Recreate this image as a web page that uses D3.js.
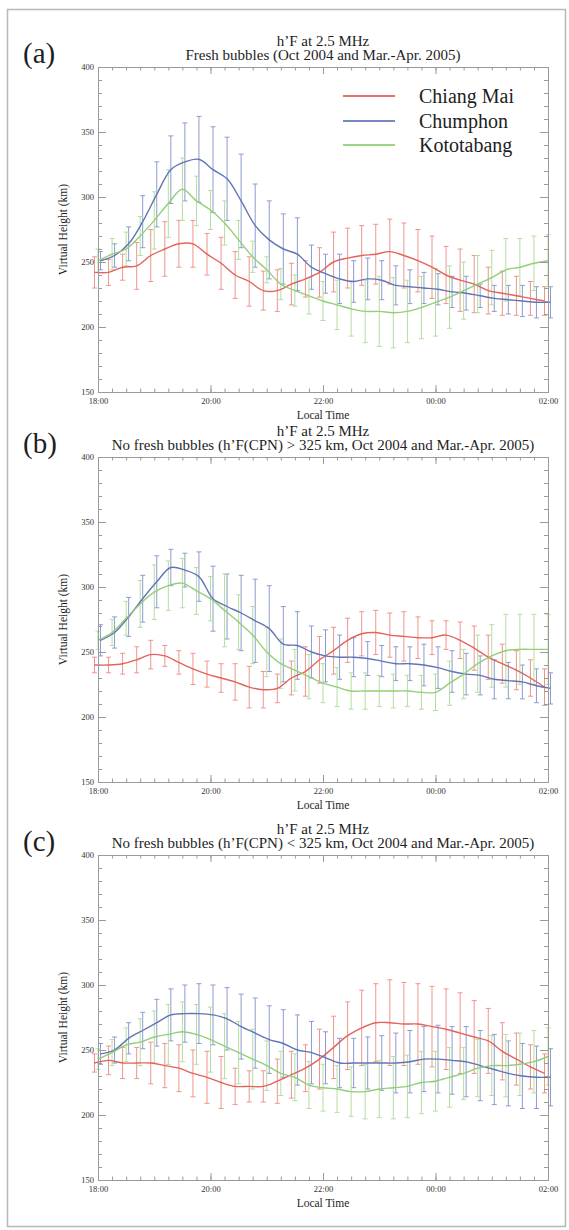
<!DOCTYPE html>
<html>
<head>
<meta charset="utf-8">
<script src="https://cdn.jsdelivr.net/npm/d3@7"></script>
<style>
  body { margin: 0; background: #fff; }
  svg { display: block; }
  text { font-family: "Liberation Serif", "Times New Roman", serif; fill: #1e1e1e; }
  .tick text { font-size: 8.5px; fill: #333; }
  .tick line, .domain { stroke: #9a9a9a; }
</style>
</head>
<body>
<svg id="chart" width="569" height="1230"></svg>
<script>
// 15 minute sampling grid, 18:00 -> 02:00 (hours past midnight of first day)
const hours = d3.range(18, 26.001, 0.25);
const xTickValues = [18, 20, 22, 24, 26];
const xTickLabels = ["18:00", "20:00", "22:00", "00:00", "02:00"];
const yTickValues = [150, 200, 250, 300, 350, 400];
const stations = ["Chiang Mai", "Chumphon", "Kototabang"];
const panelLabels = ["(a)", "(b)", "(c)"];
const titleTop = "h\u2019F at 2.5 MHz";
const subtitles = [
  "Fresh bubbles (Oct 2004 and Mar.-Apr. 2005)",
  "No fresh bubbles (h\u2019F(CPN) > 325 km, Oct 2004 and Mar.-Apr. 2005)",
  "No fresh bubbles (h\u2019F(CPN) < 325 km, Oct 2004 and Mar.-Apr. 2005)"
];

// (a) fresh bubbles
const aChiangMai    = [242,242,246,247,255,260,264,264,256,249,240,235,228,228,233,237,242,250,253,255,256,258,255,251,246,240,236,233,228,226,224,222,220];
const aChiangMaiErr = [12,10,10,18,20,21,18,18,16,20,18,19,15,16,16,14,19,23,23,23,23,25,25,24,24,22,24,22,18,17,15,13,11];
const aChumphon     = [251,255,264,281,302,321,327,329,321,314,297,278,267,260,256,246,241,237,235,237,236,232,231,230,229,227,226,224,222,221,220,219,219];
const aChumphonErr  = [7,9,13,20,25,26,30,33,33,32,36,32,30,27,28,17,15,19,16,16,15,15,13,12,12,12,13,9,10,11,12,12,12];
const aKototabang   = [251,256,260,270,282,295,306,297,290,280,267,254,244,233,228,224,220,217,214,212,212,211,212,215,219,223,228,233,238,244,246,249,251];
const aKototabangErr= [9,12,13,15,22,26,24,19,15,17,15,12,10,12,12,14,15,19,21,24,27,27,24,24,26,24,22,22,21,24,22,21,20];

// (b) no fresh bubbles, h'F(CPN) > 325 km
const bChiangMai    = [240,240,241,244,248,247,242,237,233,230,227,223,221,222,230,235,244,251,259,264,265,263,262,261,261,263,259,253,246,241,236,230,223];
const bChiangMaiErr = [6,6,8,10,11,8,9,12,10,11,14,16,14,11,13,19,18,18,17,17,17,17,19,16,13,11,14,17,17,15,15,14,14];
const bChumphon     = [259,265,277,291,304,315,313,308,291,285,280,274,268,256,255,250,247,246,246,245,243,241,241,240,238,235,233,232,229,228,227,224,222];
const bChumphonErr  = [12,12,15,18,20,14,13,19,25,25,29,32,33,29,26,20,20,17,15,13,12,13,13,16,16,16,16,15,15,14,13,13,12];
const bKototabang   = [259,265,276,287,296,301,303,297,291,282,273,263,250,241,236,231,226,223,220,220,220,220,220,219,219,226,233,241,247,251,252,252,252];
const bKototabangErr= [7,10,13,18,21,19,19,18,17,28,21,22,19,19,16,17,15,15,14,14,12,13,12,13,14,17,19,22,24,28,27,27,27];

// (c) no fresh bubbles, h'F(CPN) < 325 km
const cChiangMai    = [240,242,240,240,240,238,236,232,229,225,222,222,222,226,231,236,243,252,261,267,271,271,270,270,268,266,263,260,257,249,243,237,232];
const cChiangMaiErr = [7,11,12,12,16,17,18,18,20,20,14,12,12,17,18,18,23,24,26,29,30,33,32,31,31,31,31,28,25,22,20,17,15];
const cChumphon     = [247,250,259,265,271,277,278,278,277,274,268,263,258,255,250,248,244,240,240,240,240,240,241,243,243,242,241,238,235,232,230,229,229];
const cChumphonErr  = [8,10,12,14,18,20,22,23,23,24,25,27,26,26,27,24,20,19,19,20,21,23,24,25,26,26,27,27,27,25,25,24,22];
const cKototabang   = [243,248,254,256,260,262,264,262,258,253,248,243,238,232,229,223,221,220,218,218,220,221,222,225,226,229,232,236,238,238,239,241,245];
const cKototabangErr= [8,10,13,18,20,23,23,23,25,25,24,23,19,17,18,18,18,18,19,21,22,24,24,24,23,23,20,22,23,24,24,24,22];

const panels = [
  { means: [aChiangMai, aChumphon, aKototabang], errs: [aChiangMaiErr, aChumphonErr, aKototabangErr] },
  { means: [bChiangMai, bChumphon, bKototabang], errs: [bChiangMaiErr, bChumphonErr, bKototabangErr] },
  { means: [cChiangMai, cChumphon, cKototabang], errs: [cChiangMaiErr, cChumphonErr, cKototabangErr] }
];

// styles
const lineColors = ["#e2635a", "#6174b6", "#92cf78"];
const barColors  = ["#ee948c", "#8d9bd0", "#b3dea0"];
const legendColors = ["#e0463f", "#4861ae", "#79c75c"];
const barShift = [-3.5, 2.5, 0];   // px, IDL-style jitter so bars don't overlap
const plotLeft = 98, plotRight = 548, plotH = 325;
const panelTops = [67, 457, 855];

const svg = d3.select("#chart");

svg.append("rect")
  .attr("x", 7.5).attr("y", 9.5)
  .attr("width", 558).attr("height", 1217)
  .attr("fill", "none").attr("stroke", "#b8b8b8").attr("stroke-width", 1.5);

const minorX = d3.range(18, 26.001, 0.25);
const minorY = d3.range(150, 400.001, 10);

function drawAxes(g, x, y, top, bottom) {
  const clean = a => a.attr("font-family", null).attr("font-size", null);

  // bottom
  g.append("g").attr("transform", `translate(0,${bottom})`)
    .call(d3.axisBottom(x).tickValues(minorX).tickSize(-3.5).tickFormat("")).call(clean);
  g.append("g").attr("transform", `translate(0,${bottom})`)
    .call(d3.axisBottom(x).tickValues(xTickValues).tickSize(-7).tickPadding(6)
      .tickFormat((d, i) => xTickLabels[i])).call(clean);
  // top
  g.append("g").attr("transform", `translate(0,${top})`)
    .call(d3.axisTop(x).tickValues(minorX).tickSize(-3.5).tickFormat("")).call(clean);
  g.append("g").attr("transform", `translate(0,${top})`)
    .call(d3.axisTop(x).tickValues(xTickValues).tickSize(-7).tickFormat("")).call(clean);
  // left
  g.append("g").attr("transform", `translate(${plotLeft},0)`)
    .call(d3.axisLeft(y).tickValues(minorY).tickSize(-4).tickFormat("")).call(clean);
  g.append("g").attr("transform", `translate(${plotLeft},0)`)
    .call(d3.axisLeft(y).tickValues(yTickValues).tickSize(-8).tickPadding(4)).call(clean);
  // right
  g.append("g").attr("transform", `translate(${plotRight},0)`)
    .call(d3.axisRight(y).tickValues(minorY).tickSize(-4).tickFormat("")).call(clean);
  g.append("g").attr("transform", `translate(${plotRight},0)`)
    .call(d3.axisRight(y).tickValues(yTickValues).tickSize(-8).tickFormat("")).call(clean);
}

panels.forEach((p, pi) => {
  const top = panelTops[pi], bottom = top + plotH;
  const x = d3.scaleLinear().domain([18, 26]).range([plotLeft, plotRight]);
  const y = d3.scaleLinear().domain([150, 400]).range([bottom, top]);
  const g = svg.append("g");

  // titles
  g.append("text").attr("x", (plotLeft + plotRight) / 2).attr("y", top - 21)
    .attr("text-anchor", "middle").attr("font-size", 15).text(titleTop);
  g.append("text").attr("x", (plotLeft + plotRight) / 2).attr("y", top - 7)
    .attr("text-anchor", "middle").attr("font-size", 15).text(subtitles[pi]);
  g.append("text").attr("x", 23).attr("y", top - 4)
    .attr("font-size", 29).text(panelLabels[pi]);

  // data: error bars first, then the lines on top
  p.means.forEach((m, si) => {
    const e = p.errs[si];
    const dx = barShift[si];
    const bars = g.append("g").attr("stroke", barColors[si]).attr("stroke-width", 1);
    m.forEach((v, k) => {
      const cx = x(hours[k]) + dx;
      const y0 = y(v - e[k]), y1 = y(v + e[k]);
      bars.append("line").attr("x1", cx).attr("x2", cx).attr("y1", y0).attr("y2", y1);
      bars.append("line").attr("x1", cx - 2.5).attr("x2", cx + 2.5).attr("y1", y0).attr("y2", y0);
      bars.append("line").attr("x1", cx - 2.5).attr("x2", cx + 2.5).attr("y1", y1).attr("y2", y1);
    });
  });
  p.means.forEach((m, si) => {
    const line = d3.line()
      .x((d, k) => x(hours[k]) + barShift[si])
      .y(d => y(d))
      .curve(d3.curveCatmullRom.alpha(0.5));
    g.append("path").datum(m)
      .attr("fill", "none").attr("stroke", lineColors[si]).attr("stroke-width", 1.4)
      .attr("d", line);
  });

  drawAxes(g, x, y, top, bottom);

  // axis titles
  g.append("text").attr("x", (plotLeft + plotRight) / 2).attr("y", bottom + 27)
    .attr("text-anchor", "middle").attr("font-size", 11.5).text("Local Time");
  g.append("text")
    .attr("transform", `translate(67,${(top + bottom) / 2}) rotate(-90)`)
    .attr("text-anchor", "middle").attr("font-size", 11.5).text("Virtual Height (km)");

  // legend (first panel only)
  if (pi === 0) {
    const legendY = [96, 121, 145];
    stations.forEach((s, si) => {
      g.append("line").attr("x1", 343).attr("x2", 395)
        .attr("y1", legendY[si]).attr("y2", legendY[si])
        .attr("stroke", legendColors[si]).attr("stroke-width", 1.6);
      g.append("text").attr("x", 419).attr("y", legendY[si] + 7)
        .attr("font-size", 20).text(s);
    });
  }
});
</script>
</body>
</html>
